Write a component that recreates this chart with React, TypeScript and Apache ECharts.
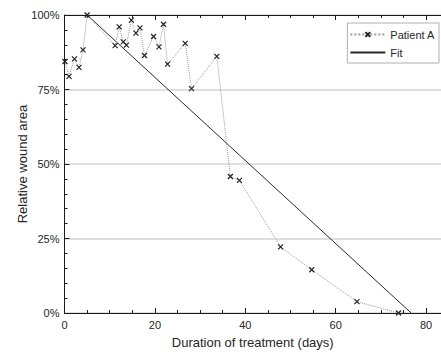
import React, { useEffect, useRef } from "react";
import * as echarts from "echarts";

const patientDays = [0.1, 1.0, 2.2, 3.2, 4.1, 5.0, 11.2, 12.1, 13.0, 13.7, 14.8, 15.8, 16.7, 17.7, 19.7, 20.9, 21.9, 22.8, 26.7, 28.1, 33.7, 36.7, 38.7, 47.8, 54.7, 64.7, 73.9];
const patientArea = [84.4, 79.4, 85.3, 82.4, 88.3, 100, 89.7, 96.0, 91.0, 89.9, 98.3, 93.9, 95.7, 86.4, 92.8, 89.3, 96.9, 83.5, 90.5, 75.3, 86.1, 45.8, 44.5, 22.2, 14.5, 3.8, 0];
const fitDays = [5.0, 76.7];
const fitArea = [100, 0];
const xTicks = [0, 20, 40, 60, 80];
const yTicks = [0, 25, 50, 75, 100];

const FONT = "'Liberation Sans', Arial, sans-serif";
const TXT = "#262626";

export default function App() {
  const ref = useRef<HTMLDivElement>(null);
  useEffect(() => {
    if (!ref.current) return;
    const chart = echarts.init(ref.current, undefined, { renderer: "svg" });
    const xMax = 83.3;
    const baseX = {
      type: "value",
      min: xTicks[0],
      max: xMax,
      interval: xTicks[1] - xTicks[0],
      axisLine: { show: true, lineStyle: { color: "#1a1a1a", width: 1 } },
      axisTick: { show: true, inside: true, length: 5, lineStyle: { color: "#1a1a1a" } },
      minorTick: { show: true, splitNumber: 4, length: 3, lineStyle: { color: "#1a1a1a" } },
      splitLine: { show: false },
    };
    chart.setOption({
      animation: false,
      grid: { left: 64.5, right: 0, top: 15, bottom: 39 },
      legend: {
        orient: "vertical",
        right: 2,
        top: 23,
        itemWidth: 35,
        itemHeight: 6,
        itemGap: 7,
        padding: [6, 4, 5, 2],
        borderColor: "#b0b0b0",
        borderWidth: 1,
        backgroundColor: "#fff",
        textStyle: { fontSize: 11, fontFamily: FONT, color: TXT },
        data: [
          { name: "Patient A" },
          { name: "Fit", itemStyle: { opacity: 0 } },
        ],
      },
      xAxis: [
        {
          ...baseX,
          position: "bottom",
          name: "Duration of treatment (days)",
          nameLocation: "middle",
          nameGap: 23,
          nameMoveOverlap: false,
          nameTextStyle: { fontSize: 13, fontFamily: FONT, color: TXT },
          axisLabel: { fontSize: 11, fontFamily: FONT, color: TXT, margin: 6, showMaxLabel: false },
        },
        {
          ...baseX,
          position: "top",
          axisLabel: { show: false },
        },
      ],
      yAxis: {
        type: "value",
        min: yTicks[0],
        max: yTicks[yTicks.length - 1],
        interval: yTicks[1] - yTicks[0],
        name: "Relative wound area",
        nameLocation: "middle",
        nameGap: 36,
        nameMoveOverlap: false,
        nameTextStyle: { fontSize: 13, fontFamily: FONT, color: TXT },
        axisLine: { show: true, lineStyle: { color: "#1a1a1a", width: 1 } },
        axisTick: { show: true, inside: true, length: 5, lineStyle: { color: "#1a1a1a" } },
        minorTick: { show: true, splitNumber: 5, length: 3, lineStyle: { color: "#1a1a1a" } },
        axisLabel: { fontSize: 11, fontFamily: FONT, color: TXT, margin: 5, formatter: "{value}%" },
        splitLine: { show: true, lineStyle: { color: "#d4d4d4", width: 1.5 } },
      },
      series: [
        {
          name: "Patient A",
          type: "line",
          data: patientDays.map((d, i) => [d, patientArea[i]]),
          symbol: "path://M0,0L10,10M10,0L0,10",
          symbolSize: 5,
          showAllSymbol: true,
          lineStyle: { type: "dotted", color: "#9a9a9a", width: 1 },
          itemStyle: { color: "transparent", borderColor: "#222", borderWidth: 1.2 },
          z: 3,
        },
        {
          name: "Fit",
          type: "line",
          data: fitDays.map((d, i) => [d, fitArea[i]]),
          symbol: "circle",
          showSymbol: false,
          lineStyle: { type: "solid", color: "#2a2a2a", width: 1 },
          itemStyle: { color: "#2a2a2a" },
          z: 2,
        },
      ],
    });
    return () => chart.dispose();
  }, []);
  return <div ref={ref} style={{ width: 441, height: 354, position: "absolute", left: 0, top: 0 }} />;
}
